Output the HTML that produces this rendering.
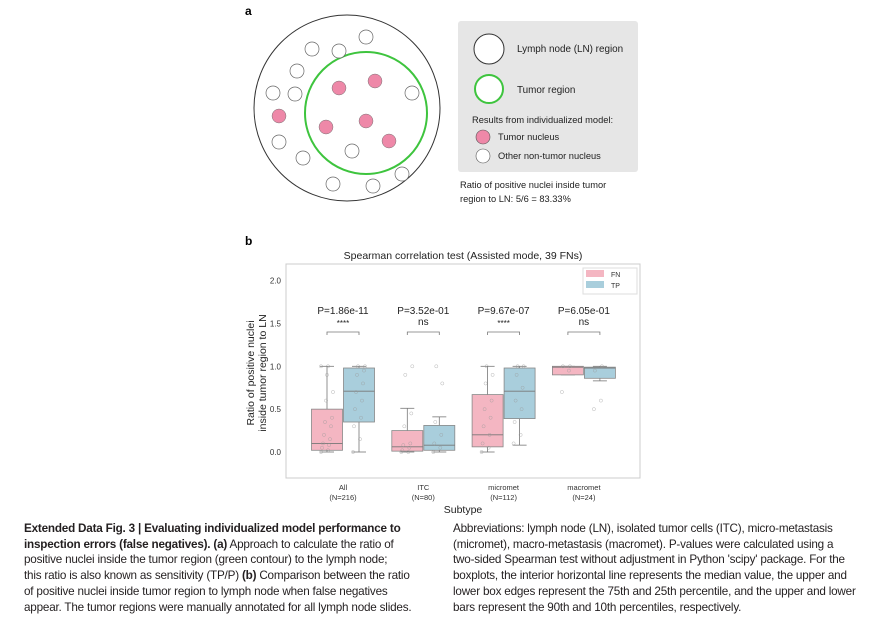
<!DOCTYPE html>
<html><head><meta charset="utf-8"><style>
body{margin:0;background:#fff;width:872px;height:628px;overflow:hidden;position:relative;font-family:"Liberation Sans",sans-serif}
svg{position:absolute;left:0;top:0}
.cap{position:absolute;top:521px;font-size:11.7px;line-height:15.7px;color:#231f20;white-space:nowrap;letter-spacing:-0.2px}
</style></head><body>
<svg width="872" height="628" font-family="Liberation Sans, sans-serif">
<g>
<text x="245" y="15" font-size="12" font-weight="bold">a</text>
<circle cx="347" cy="108" r="93" fill="none" stroke="#333" stroke-width="1"/>
<circle cx="366" cy="113" r="61" fill="none" stroke="#3ec43e" stroke-width="2"/>
<g id="nuclei"></g>
<rect x="458" y="21" width="180" height="151" rx="3" fill="#e6e6e6"/>
<circle cx="489" cy="49" r="15" fill="#fff" stroke="#333"/>
<text x="517" y="52" font-size="9.9" fill="#222">Lymph node (LN) region</text>
<circle cx="489" cy="89" r="14" fill="#fff" stroke="#3ec43e" stroke-width="2"/>
<text x="517" y="93" font-size="9.9" fill="#222">Tumor region</text>
<text x="472" y="123" font-size="9.3" fill="#222">Results from individualized model:</text>
<circle cx="483" cy="137" r="7" fill="#ee88a8" stroke="#555" stroke-width="0.6"/>
<text x="498" y="140" font-size="9.3" fill="#222">Tumor nucleus</text>
<circle cx="483" cy="156" r="7" fill="#fff" stroke="#555" stroke-width="0.6"/>
<text x="498" y="159" font-size="9.3" fill="#222">Other non-tumor nucleus</text>
<text x="460" y="188" font-size="9.3" fill="#222">Ratio of positive nuclei inside tumor</text>
<text x="460" y="202" font-size="9.3" fill="#222">region to LN: 5/6 = 83.33%</text>
</g>
<g>
<text x="245" y="245" font-size="12" font-weight="bold">b</text>
<text x="463" y="259" font-size="10.5" text-anchor="middle" fill="#222">Spearman correlation test (Assisted mode, 39 FNs)</text>
<rect x="286" y="264" width="354" height="214" fill="#fff" stroke="#ccc"/>
<g id="chart"></g>
<text x="463" y="513" font-size="10.5" text-anchor="middle" fill="#222">Subtype</text>
<text transform="translate(254,373) rotate(-90)" font-size="10.5" text-anchor="middle" fill="#222"><tspan x="0" dy="0">Ratio of positive nuclei</tspan><tspan x="0" dy="12">inside tumor region to LN</tspan></text>
<rect x="583" y="268" width="54" height="26" fill="#fff" stroke="#ddd"/>
<rect x="586" y="270" width="18" height="7" fill="#f4b6c2"/>
<text x="611" y="277" font-size="7" fill="#333">FN</text>
<rect x="586" y="281" width="18" height="7" fill="#a9cedc"/>
<text x="611" y="288" font-size="7" fill="#333">TP</text>
</g>
</svg>
<div class="cap" style="left:24px"><b>Extended Data Fig. 3 | Evaluating individualized model performance to</b><br><b>inspection errors (false negatives). (a)</b> Approach to calculate the ratio of<br>positive nuclei inside the tumor region (green contour) to the lymph node;<br>this ratio is also known as sensitivity (TP/P) <b>(b)</b> Comparison between the ratio<br>of positive nuclei inside tumor region to lymph node when false negatives<br>appear. The tumor regions were manually annotated for all lymph node slides.</div>
<div class="cap" style="left:453px">Abbreviations: lymph node (LN), isolated tumor cells (ITC), micro-metastasis<br>(micromet), macro-metastasis (macromet). P-values were calculated using a<br>two-sided Spearman test without adjustment in Python 'scipy' package. For the<br>boxplots, the interior horizontal line represents the median value, the upper and<br>lower box edges represent the 75th and 25th percentile, and the upper and lower<br>bars represent the 90th and 10th percentiles, respectively.</div>
<script>
const NS='http://www.w3.org/2000/svg';
function mk(p,t,a){const e=document.createElementNS(NS,t);for(const k in a)e.setAttribute(k,a[k]);p.appendChild(e);return e;}
// panel a nuclei
const emptyNuclei=[[366,37],[312,49],[339,51],[297,71],[273,93],[295,94],[412,93],[279,142],[303,158],[352,151],[402,174],[333,184],[373,186]];
const pinkNuclei=[[339,88],[375,81],[279,116],[326,127],[366,121],[389,141]];
const ng=document.getElementById('nuclei');
emptyNuclei.forEach(p=>{const c=mk(ng,'circle',{cx:p[0],cy:p[1],r:7,fill:'#fff',stroke:'#666','stroke-width':0.7});

});
pinkNuclei.forEach(p=>{const c=mk(ng,'circle',{cx:p[0],cy:p[1],r:7,fill:'#ee88a8',stroke:'#777','stroke-width':0.5});

});

// chart data
const categories=['All','ITC','micromet','macromet'];
const counts=['(N=216)','(N=80)','(N=112)','(N=24)'];
const yTicks=[0.0,0.5,1.0,1.5,2.0];
const pLabels=['P=1.86e-11','P=3.52e-01','P=9.67e-07','P=6.05e-01'];
const sigLabels=['****','ns','****','ns'];
// [whiskerLow, q1, median, q3, whiskerHigh]
const fnStats=[[0,0.02,0.10,0.50,1.0],[0,0.01,0.06,0.25,0.51],[0,0.06,0.20,0.67,1.0],[0.90,0.90,0.99,1.0,1.0]];
const tpStats=[[0,0.35,0.71,0.98,1.0],[0,0.02,0.08,0.31,0.41],[0.08,0.39,0.71,0.98,1.0],[0.83,0.86,0.98,0.99,1.0]];
const fnPoints=[[0,0.02,0.05,0.08,0.1,0.15,0.2,0.3,0.35,0.4,0.6,0.7,0.9,1,1],[0,0,0.02,0.05,0.08,0.1,0.3,0.45,0.9,1],[0,0.05,0.1,0.2,0.3,0.4,0.5,0.6,0.8,0.9,1],[0.7,0.95,1,1]];
const tpPoints=[[0,0.15,0.3,0.4,0.5,0.6,0.7,0.8,0.9,0.95,1,1],[0,0.05,0.1,0.2,0.35,0.8,1],[0.1,0.2,0.35,0.5,0.6,0.75,0.9,1,1],[0.5,0.6,0.95,1]];
const bracketY=1.4;

const Y0=452,PPU=85.7;
const y=v=>Y0-v*PPU;
const x=i=>343+i*80.3;
const g=document.getElementById('chart');
yTicks.forEach(t=>{const l=mk(g,'text',{x:281,y:y(t)+3,'font-size':8,'text-anchor':'end',fill:'#333'});l.textContent=t.toFixed(1);

});
function box(s,cx,fill,pts,name){
  const bg=mk(g,'g',{});
  
  
  mk(bg,'line',{x1:cx,x2:cx,y1:y(s[0]),y2:y(s[1]),stroke:'#777','stroke-width':0.8});
  mk(bg,'line',{x1:cx,x2:cx,y1:y(s[3]),y2:y(s[4]),stroke:'#777','stroke-width':0.8});
  mk(bg,'line',{x1:cx-7,x2:cx+7,y1:y(s[0]),y2:y(s[0]),stroke:'#777','stroke-width':0.8});
  mk(bg,'line',{x1:cx-7,x2:cx+7,y1:y(s[4]),y2:y(s[4]),stroke:'#777','stroke-width':0.8});
  mk(bg,'rect',{x:cx-15.5,y:y(s[3]),width:31,height:Math.max(1,y(s[1])-y(s[3])),fill:fill,stroke:'#888','stroke-width':0.8});
  mk(bg,'line',{x1:cx-15.5,x2:cx+15.5,y1:y(s[2]),y2:y(s[2]),stroke:'#777','stroke-width':0.9});
  pts.forEach((v,k)=>{mk(bg,'circle',{cx:cx+((k*7)%13-6),cy:y(v),r:1.6,fill:'none',stroke:'#999','stroke-width':0.5,opacity:0.7});});
}
categories.forEach((c,i)=>{
  box(fnStats[i],x(i)-16,'#f4b6c2',fnPoints[i],'box-fn-'+c);
  box(tpStats[i],x(i)+16,'#a9cedc',tpPoints[i],'box-tp-'+c);
  const br=mk(g,'path',{d:`M${x(i)-16},${y(bracketY)+3}V${y(bracketY)}H${x(i)+16}V${y(bracketY)+3}`,fill:'none',stroke:'#777','stroke-width':0.8});
  
  
  const p=mk(g,'text',{x:x(i),y:314,'font-size':10,'text-anchor':'middle',fill:'#222'});p.textContent=pLabels[i];
  
  
  const s=mk(g,'text',{x:x(i),y:sigLabels[i]==='ns'?325:326,'font-size':sigLabels[i]==='ns'?10:8,'text-anchor':'middle',fill:'#222'});s.textContent=sigLabels[i];
  
  
  const a=mk(g,'text',{x:x(i),y:490,'font-size':7.5,'text-anchor':'middle',fill:'#333'});a.textContent=c;
  
  
  const b=mk(g,'text',{x:x(i),y:500,'font-size':7.5,'text-anchor':'middle',fill:'#333'});b.textContent=counts[i];
  
  
});
</script>
</body></html>
